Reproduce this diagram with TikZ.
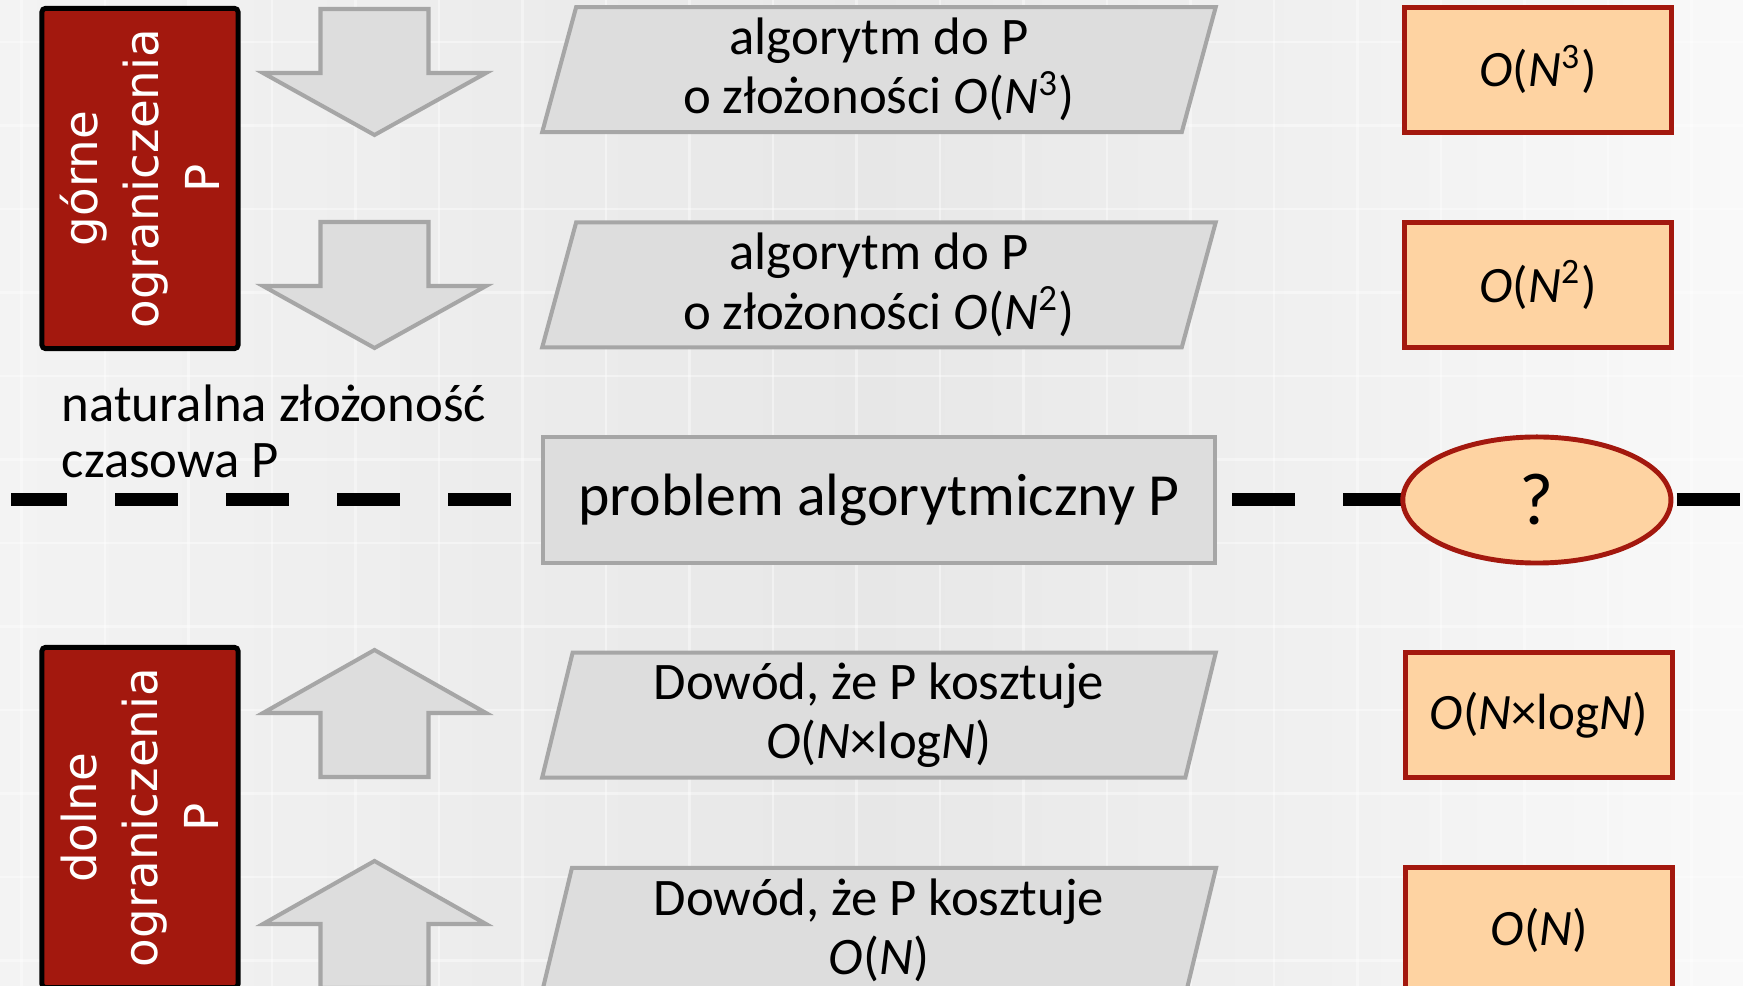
\documentclass[tikz,border=0pt]{standalone}
\usepackage{fontspec}
\setmainfont{Carlito}
\newfontfamily\vertfont{DejaVu Sans}
\usetikzlibrary{positioning,shapes.geometric}
\definecolor{boxfill}{HTML}{DDDDDD}
\definecolor{boxline}{HTML}{A6A6A6}
\definecolor{darkred}{HTML}{A3180E}
\definecolor{peach}{HTML}{FED3A2}
\definecolor{bgside}{HTML}{F3F3F3}
\definecolor{bgmid}{HTML}{E7E7E7}
\definecolor{bgright}{HTML}{F9F9F9}
\begin{document}
\begin{tikzpicture}[x=0.01cm,y=-0.01cm,node distance=0.86cm,
  para/.style={trapezium,trapezium left angle=79,trapezium right angle=101,trapezium stretches=true,
    draw=boxline,fill=boxfill,line width=1.15pt,minimum width=6.74cm,minimum height=1.25cm,
    align=center,inner sep=2pt,font=\fontsize{15}{16.8}\selectfont},
  pbox/.style={rectangle,draw=boxline,fill=boxfill,line width=1.15pt,minimum width=6.72cm,
    minimum height=1.25cm,font=\fontsize{17}{20}\selectfont},
  cbox/.style={rectangle,draw=darkred,fill=peach,line width=1.4pt,minimum width=2.67cm,
    minimum height=1.25cm,inner sep=2pt,font=\fontsize{14.5}{18}\selectfont},
  bound/.style={rectangle,draw=black,fill=darkred,line width=1.4pt,rounded corners=1pt,
    minimum width=3.40cm,minimum height=1.96cm,rotate=90,align=center,text=white,
    font=\vertfont\fontsize{13.3}{17.4}\selectfont},
  blk/.style={draw=boxline,fill=boxfill,line width=1.15pt},
  gridline/.style={white,line width=0.6pt,opacity=0.4},
  sep/.style={line width=0.13cm,dash pattern=on 0.63cm off 0.48cm,dash phase=0.07cm}]
\useasboundingbox (0,0) rectangle (1743,986);
\clip (0,0) rectangle (1743,986);
% background
\shade[left color=bgside,right color=bgright,middle color=bgmid] (0,0) rectangle (1743,986);
\foreach \gx in {0,...,20}
  \draw[gridline] (21.5+83.5*\gx,0) -- (21.5+83.5*\gx,986);
\foreach \gy in {0,...,11}
  \draw[gridline] (0,42+83.5*\gy) -- (1743,42+83.5*\gy);
% block arrows
\foreach \t in {9,222}
  \draw[blk] (374.5,\t) ++(-54,0) -- ++(108,0) -- ++(0,64) -- ++(57.5,0) -- ++(-111.5,62)
    -- ++(-111.5,-62) -- ++(57.5,0) -- cycle;
\foreach \t in {650,861}
  \draw[blk] (374.5,\t) -- ++(111.5,63) -- ++(-57.5,0) -- ++(0,64) -- ++(-108,0) -- ++(0,-64)
    -- ++(-57.5,0) -- cycle;
% middle column
\node[pbox] (prob) at (879,500) {problem algorytmiczny P};
\node[para, above=of prob] (alg2) {algorytm do P\\o złożoności \textit{O}(\textit{N}\textsuperscript{2})};
\node[para, above=of alg2] (alg3) {algorytm do P\\o złożoności \textit{O}(\textit{N}\textsuperscript{3})};
\node[para, below=of prob] (low1) {Dowód, że P kosztuje\\\textit{O}(\textit{N}×log\textit{N})};
\node[para, below=of low1] (low0) {Dowód, że P kosztuje\\\textit{O}(\textit{N})};
% side labels
\node[bound] (upper) at (140,178.5) {górne\\ograniczenia\\P};
\node[bound] (lower) at (140,817.5) {dolne\\ograniczenia\\P};
\node[anchor=base west,align=left,inner sep=0pt,font=\fontsize{15}{16}\selectfont] (note) at (61,478)
  {naturalna złożoność\\czasowa P};
% dividing line
\coordinate (lineL) at (11,500);
\coordinate (lineR) at (1743,500);
\draw[sep] (lineL) -- (prob);
\draw[sep, dash phase=0pt, shorten <=0.15cm] (prob) -- (lineR);
% complexities
\node[cbox, right=2.01cm of alg3] (c3) {\textit{O}(\textit{N}\textsuperscript{3})};
\node[cbox, right=2.01cm of alg2] (c2) {\textit{O}(\textit{N}\textsuperscript{2})};
\node[cbox, ellipse, minimum width=2.68cm, minimum height=1.26cm, right=1.83cm of prob] (ques) {\fontsize{21}{24}\selectfont ?};
\node[cbox, right=2.0cm of low1] (c1) {\textit{O}(\textit{N}×log\textit{N})};
\node[cbox, right=2.0cm of low0] (c0) {\textit{O}(\textit{N})};
\end{tikzpicture}
\end{document}
